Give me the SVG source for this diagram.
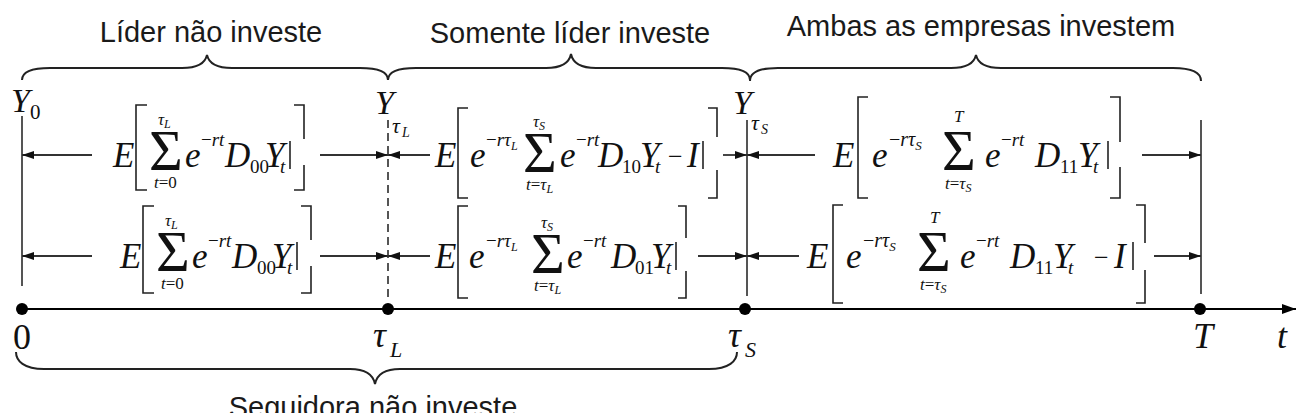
<svg xmlns="http://www.w3.org/2000/svg" width="1305" height="413" viewBox="0 0 1305 413">
<style>
.lbl{font-family:"Liberation Sans",Arial,sans-serif;font-size:29px;fill:#1a1a1a}
.m{font-family:"Liberation Serif","Times New Roman",serif;fill:#111}
.i{font-style:italic}
.n{font-style:normal}
.b{font-size:35px}
.s{font-size:19px}
.x{font-size:17px}
.xx{font-size:12px}
.sig{font-size:58px;font-style:normal}
.br{fill:none;stroke:#222;stroke-width:1.6}
.brace{fill:none;stroke:#222;stroke-width:2}
.vl{stroke:#555;stroke-width:2}
.arr{stroke:#333;stroke-width:1.8;marker-end:url(#ah)}
</style>
<defs>
<marker id="ah" viewBox="0 0 12 8" refX="12" refY="4" markerWidth="12" markerHeight="8" orient="auto" markerUnits="userSpaceOnUse"><path d="M0,0 L12,4 L0,8 z" fill="#111"/></marker>
<marker id="ax" viewBox="0 0 14 10" refX="14" refY="5" markerWidth="14" markerHeight="10" orient="auto" markerUnits="userSpaceOnUse"><path d="M0,0 L14,5 L0,10 z" fill="#000"/></marker>
</defs>
<rect width="1305" height="413" fill="#fff"/>

<g id="phase-labels">
<text class="lbl" x="211" y="42" text-anchor="middle">Líder não investe</text>
<text class="lbl" x="570" y="43" text-anchor="middle">Somente líder investe</text>
<text class="lbl" x="981" y="36" text-anchor="middle">Ambas as empresas investem</text>
<path class="brace" d="M22,80 C22,72 30,68 50,68 L182,68 C196,68 205,64 207,55 C209,64 218,68 232,68 L360,68 C380,68 388,72 388,80"/>
<path class="brace" d="M388,80 C388,72 396,68 416,68 L546,68 C560,68 569,64 571,54 C573,64 582,68 596,68 L722,68 C742,68 750,72 750,80"/>
<path class="brace" d="M750,81 C750,73 758,68 778,68 L951,68 C965,68 974,64 976,55 C978,64 987,68 1001,68 L1173,68 C1193,68 1201,73 1201,81"/>
<path class="brace" d="M16,352 C16,361 24,369 44,369 L350,369 C364,369 373,374 375,384 C377,374 386,369 400,369 L709,369 C729,369 737,361 737,352"/>
<text class="lbl" x="373" y="417" text-anchor="middle">Seguidora não investe</text>
</g>

<g id="connectors">
<line class="vl" x1="22" y1="116" x2="22" y2="286"/>
<line class="vl" x1="388" y1="120" x2="388" y2="298" stroke-dasharray="8,5"/>
<line class="vl" x1="747" y1="120" x2="747" y2="296"/>
<line class="vl" x1="1201" y1="120" x2="1201" y2="294"/>
<line class="arr" x1="92" y1="155" x2="22" y2="155"/>
<line class="arr" x1="320" y1="155" x2="388" y2="155"/>
<line class="arr" x1="430" y1="155" x2="388" y2="155"/>
<line class="arr" x1="723" y1="155" x2="747" y2="155"/>
<line class="arr" x1="815" y1="155" x2="747" y2="155"/>
<line class="arr" x1="1142" y1="155" x2="1201" y2="155"/>
<line class="arr" x1="92" y1="256" x2="22" y2="256"/>
<line class="arr" x1="320" y1="256" x2="388" y2="256"/>
<line class="arr" x1="430" y1="256" x2="388" y2="256"/>
<line class="arr" x1="698" y1="256" x2="747" y2="256"/>
<line class="arr" x1="799" y1="256" x2="747" y2="256"/>
<line class="arr" x1="1154" y1="256" x2="1201" y2="256"/>
<line x1="22" y1="309" x2="1296" y2="309" stroke="#000" stroke-width="2" marker-end="url(#ax)"/>
</g>

<g id="axis-points">
<circle cx="22" cy="309" r="6" fill="#000"/>
<circle cx="388" cy="309" r="6" fill="#000"/>
<circle cx="745" cy="309" r="6" fill="#000"/>
<circle cx="1200" cy="309" r="6" fill="#000"/>
<text class="m" x="13" y="349" font-size="36">0</text>
<text class="m i" x="373" y="347" font-size="36">τ</text><text class="m i" x="390" y="357" font-size="22">L</text>
<text class="m i" x="728" y="347" font-size="36">τ</text><text class="m i" x="745" y="357" font-size="22">S</text>
<text class="m i" x="1193" y="348" font-size="36">T</text>
<text class="m i" x="1277" y="348" font-size="36">t</text>
</g>

<g id="y-labels">
<text class="m i" x="11" y="112" font-size="34">Y</text><text class="m" x="30" y="119" font-size="21">0</text>
<text class="m i" x="375" y="114" font-size="34">Y</text><text class="m i" x="392" y="133" font-size="22">τ</text><text class="m i" x="402" y="137" font-size="14">L</text>
<text class="m i" x="733" y="114" font-size="34">Y</text><text class="m i" x="751" y="130" font-size="22">τ</text><text class="m i" x="761" y="134" font-size="14">S</text>
</g>

<g id="formula-A1" transform="translate(113,167)">
<text class="m i b" x="0" y="0">E</text>
<path class="br" d="M34,-62 H23 V23 H34"/>
<text class="m sig" x="36" y="3">Σ</text>
<text class="m i x" x="45" y="-42">τ<tspan class="xx" dy="3">L</tspan></text>
<text class="m x" x="41" y="21"><tspan class="i">t</tspan>=0</text>
<text class="m i b" x="72" y="0">e</text>
<text class="m i s" x="88" y="-21"><tspan class="n">−</tspan>rt</text>
<text class="m i b" x="112" y="0">D</text>
<text class="m s" x="137" y="6">00</text>
<text class="m i b" x="152" y="0">Y</text>
<text class="m i s" x="167" y="6">t</text>
<line class="br" x1="177" y1="-26" x2="177" y2="2"/>
<path class="br" d="M181,-62 H191 V-28 M191,-2 V23 H181"/>
</g>

<g id="formula-A2" transform="translate(120,268)">
<text class="m i b" x="0" y="0">E</text>
<path class="br" d="M34,-62 H23 V25 H34"/>
<text class="m sig" x="36" y="3">Σ</text>
<text class="m i x" x="45" y="-42">τ<tspan class="xx" dy="3">L</tspan></text>
<text class="m x" x="41" y="21"><tspan class="i">t</tspan>=0</text>
<text class="m i b" x="72" y="0">e</text>
<text class="m i s" x="88" y="-21"><tspan class="n">−</tspan>rt</text>
<text class="m i b" x="112" y="0">D</text>
<text class="m s" x="137" y="6">00</text>
<text class="m i b" x="152" y="0">Y</text>
<text class="m i s" x="167" y="6">t</text>
<line class="br" x1="177" y1="-26" x2="177" y2="2"/>
<path class="br" d="M181,-62 H191 V-28 M191,-2 V25 H181"/>
</g>

<g id="formula-B1" transform="translate(435,167)">
<text class="m i b" x="0" y="0">E</text>
<path class="br" d="M33,-59 H23 V31 H33"/>
<text class="m i b" x="35" y="0">e</text>
<text class="m i s" x="51" y="-21"><tspan class="n">−</tspan>rτ<tspan class="xx" dy="4">L</tspan></text>
<text class="m sig" x="88" y="5">Σ</text>
<text class="m i x" x="98" y="-40">τ<tspan class="xx" dy="3">S</tspan></text>
<text class="m x" x="91" y="23"><tspan class="i">t</tspan>=<tspan class="i">τ</tspan><tspan class="i xx" dy="3">L</tspan></text>
<text class="m i b" x="125" y="0">e</text>
<text class="m i s" x="141" y="-21"><tspan class="n">−</tspan>rt</text>
<text class="m i b" x="163" y="0">D</text>
<text class="m s" x="187" y="6">10</text>
<text class="m i b" x="205" y="0">Y</text>
<text class="m i s" x="220" y="6">t</text>
<text class="m" x="233" y="-2" font-size="26">−</text>
<text class="m i b" x="252" y="0">I</text>
<line class="br" x1="268" y1="-26" x2="268" y2="2"/>
<path class="br" d="M273,-59 H282 V-30 M282,3 V31 H273"/>
</g>

<g id="formula-B2" transform="translate(435,268)">
<text class="m i b" x="0" y="0">E</text>
<path class="br" d="M33,-62 H23 V30 H33"/>
<text class="m i b" x="34" y="0">e</text>
<text class="m i s" x="51" y="-21"><tspan class="n">−</tspan>rτ<tspan class="xx" dy="4">L</tspan></text>
<text class="m sig" x="96" y="5">Σ</text>
<text class="m i x" x="106" y="-40">τ<tspan class="xx" dy="3">S</tspan></text>
<text class="m x" x="99" y="23"><tspan class="i">t</tspan>=<tspan class="i">τ</tspan><tspan class="i xx" dy="3">L</tspan></text>
<text class="m i b" x="132" y="0">e</text>
<text class="m i s" x="148" y="-21"><tspan class="n">−</tspan>rt</text>
<text class="m i b" x="176" y="0">D</text>
<text class="m s" x="200" y="6">01</text>
<text class="m i b" x="216" y="0">Y</text>
<text class="m i s" x="231" y="6">t</text>
<line class="br" x1="241" y1="-26" x2="241" y2="2"/>
<path class="br" d="M243,-62 H251 V-30 M251,3 V30 H243"/>
</g>

<g id="formula-C1" transform="translate(833,167)">
<text class="m i b" x="0" y="0">E</text>
<path class="br" d="M35,-70 H25 V31 H35"/>
<text class="m i b" x="39" y="0">e</text>
<text class="m i" x="56" y="-21" font-size="20"><tspan class="n">−</tspan>rτ<tspan font-size="13" dy="4">S</tspan></text>
<text class="m sig" x="109" y="3">Σ</text>
<text class="m i x" x="121" y="-45">T</text>
<text class="m x" x="112" y="22"><tspan class="i">t</tspan>=<tspan class="i">τ</tspan><tspan class="i xx" dy="3">S</tspan></text>
<text class="m i b" x="152" y="0">e</text>
<text class="m i s" x="168" y="-21"><tspan class="n">−</tspan>rt</text>
<text class="m i b" x="202" y="0">D</text>
<text class="m s" x="227" y="6">11</text>
<text class="m i b" x="245" y="0">Y</text>
<text class="m i s" x="260" y="6">t</text>
<line class="br" x1="275" y1="-26" x2="275" y2="2"/>
<path class="br" d="M277,-70 H287 V-25 M287,0 V31 H277"/>
</g>

<g id="formula-C2" transform="translate(807,268)">
<text class="m i b" x="0" y="0">E</text>
<path class="br" d="M36,-63 H26 V35 H36"/>
<text class="m i b" x="39" y="0">e</text>
<text class="m i" x="56" y="-21" font-size="20"><tspan class="n">−</tspan>rτ<tspan font-size="13" dy="4">S</tspan></text>
<text class="m sig" x="110" y="3">Σ</text>
<text class="m i x" x="123" y="-45">T</text>
<text class="m x" x="113" y="22"><tspan class="i">t</tspan>=<tspan class="i">τ</tspan><tspan class="i xx" dy="3">S</tspan></text>
<text class="m i b" x="153" y="0">e</text>
<text class="m i s" x="169" y="-21"><tspan class="n">−</tspan>rt</text>
<text class="m i b" x="203" y="0">D</text>
<text class="m s" x="228" y="6">11</text>
<text class="m i b" x="246" y="0">Y</text>
<text class="m i s" x="261" y="6">t</text>
<text class="m" x="287" y="-2" font-size="26">−</text>
<text class="m i b" x="307" y="0">I</text>
<line class="br" x1="326" y1="-26" x2="326" y2="2"/>
<path class="br" d="M329,-63 H338 V-25 M338,2 V35 H329"/>
</g>
</svg>
